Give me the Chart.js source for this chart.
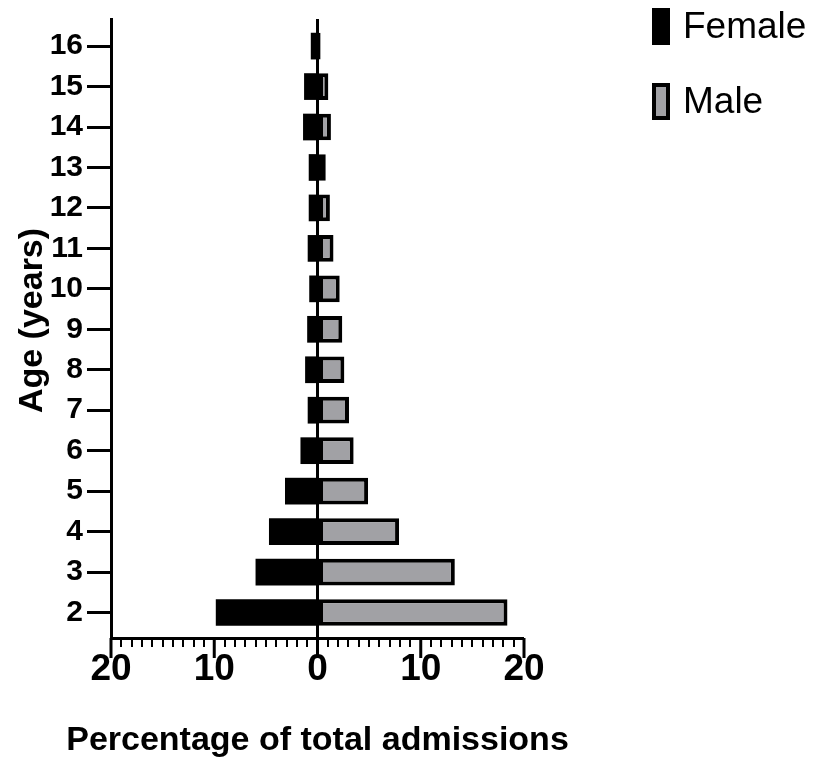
<!DOCTYPE html>
<html lang="en">
  <head>
    <meta charset="UTF-8" />
    <title>Admissions by age and sex</title>
    <script src="https://cdn.jsdelivr.net/npm/chart.js"></script>
    <style>
      body { margin: 0; background: #fff; }
      .chart-box { position: relative; width: 816px; height: 767px; }
    </style>
  </head>
  <body>
    <div class="chart-box"><canvas id="ageChart"></canvas></div>

    <script>
      // percentage of total admissions per age (years)
      const ages = [2, 3, 4, 5, 6, 7, 8, 9, 10, 11, 12, 13, 14, 15, 16];
      const female = [9.85, 6.0, 4.7, 3.15, 1.65, 0.95, 1.2, 1.0, 0.8, 0.95, 0.85, 0.85, 1.4, 1.3, 0.65];
      const male = [18.4, 13.3, 7.9, 4.9, 3.5, 3.05, 2.6, 2.4, 2.15, 1.55, 1.2, 0.8, 1.3, 1.05, 0.3];
      const xLabelTicks = [-20, -10, 0, 10, 20];
      const xTitle = "Percentage of total admissions";
      const yTitle = "Age (years)";

      const FONT = "'Liberation Sans', Arial, sans-serif";

      // legend drawn top right, boxes stacked vertically
      const sideLegend = {
        id: "sideLegend",
        afterDraw(chart) {
          const ctx = chart.ctx;
          ctx.save();
          chart.data.datasets.forEach((ds, i) => {
            const y = 8 + i * 75;
            ctx.fillStyle = ds.backgroundColor;
            ctx.fillRect(652, y, 18, 37);
            if (ds.borderWidth) {
              ctx.lineWidth = 4;
              ctx.strokeStyle = ds.borderColor;
              ctx.strokeRect(654, y + 2, 14, 33);
            }
            ctx.fillStyle = "#000";
            ctx.font = "37px " + FONT;
            ctx.textBaseline = "middle";
            ctx.fillText(ds.label, 683, y + 20);
          });
          ctx.restore();
        },
      };

      // longer tick marks at the labelled values + axis titles
      // (the built-in title gets squeezed to the axis width)
      const axisExtras = {
        id: "axisExtras",
        afterDraw(chart) {
          const xs = chart.scales.x;
          const ys = chart.scales.y;
          const ctx = chart.ctx;
          ctx.save();
          ctx.strokeStyle = "#000";
          ctx.lineWidth = 3;
          xLabelTicks.forEach((v) => {
            const px = xs.getPixelForValue(v);
            ctx.beginPath();
            ctx.moveTo(px, xs.top);
            ctx.lineTo(px, xs.top + 20);
            ctx.stroke();
          });

          ctx.fillStyle = "#000";
          ctx.font = "bold 34px " + FONT;
          ctx.textAlign = "center";
          ctx.textBaseline = "alphabetic";
          ctx.fillText(xTitle, xs.getPixelForValue(0), 750);

          ctx.translate(42, (ys.top + ys.bottom) / 2 - 8);
          ctx.rotate(-Math.PI / 2);
          ctx.fillText(yTitle, 0, 0);
          ctx.restore();
        },
      };

      const data = {
        datasets: [
          {
            label: "Female",
            data: ages.map((a, i) => ({ x: -female[i], y: a })),
            backgroundColor: "#000000",
            borderWidth: 0,
          },
          {
            label: "Male",
            data: ages.map((a, i) => ({ x: male[i], y: a })),
            backgroundColor: "#a1a1a5",
            borderColor: "#000000",
            borderWidth: 4,
            borderSkipped: false,
          },
        ],
      };

      const config = {
        type: "bar",
        data,
        options: {
          indexAxis: "y",
          responsive: true,
          maintainAspectRatio: false,
          animation: false,
          barPercentage: 0.66,
          categoryPercentage: 1,
          layout: {
            padding: { left: 0, right: 292, top: 19, bottom: 0 },
          },
          scales: {
            x: {
              type: "linear",
              stacked: true,
              min: -20,
              max: 20,
              afterFit(scale) {
                scale.height = 129;
                scale.paddingLeft = 0;
                scale.paddingRight = 0;
              },
              ticks: {
                stepSize: 1,
                autoSkip: false,
                maxRotation: 0,
                padding: 1,
                color: "#000",
                font: { family: FONT, size: 37, weight: "bold" },
                callback: (v) => (v % 10 === 0 ? Math.abs(v) : ""),
              },
              grid: {
                drawOnChartArea: true,
                color: (c) => (c.tick && c.tick.value === 0 ? "#000" : "rgba(0,0,0,0)"),
                lineWidth: (c) => (c.tick && c.tick.value === 0 ? 3 : 0),
                tickColor: "#000",
                tickWidth: 2,
                tickLength: 9,
              },
              border: { color: "#000", width: 3 },
            },
            y: {
              type: "linear",
              stacked: true,
              offset: false,
              min: 1.37,
              max: 16.67,
              afterFit(scale) {
                scale.width = 111;
                scale.paddingTop = 0;
                scale.paddingBottom = 0;
              },
              ticks: {
                stepSize: 1,
                includeBounds: false,
                padding: 4,
                color: "#000",
                font: { family: FONT, size: 30, weight: "bold" },
              },
              grid: {
                offset: false,
                drawOnChartArea: false,
                tickColor: "#000",
                tickWidth: 3,
                tickLength: 24,
              },
              border: { color: "#000", width: 3 },
            },
          },
          plugins: {
            legend: { display: false },
            tooltip: { enabled: false },
          },
        },
        plugins: [sideLegend, axisExtras],
      };

      const ageChart = new Chart(document.getElementById("ageChart"), config);
    </script>
  </body>
</html>
